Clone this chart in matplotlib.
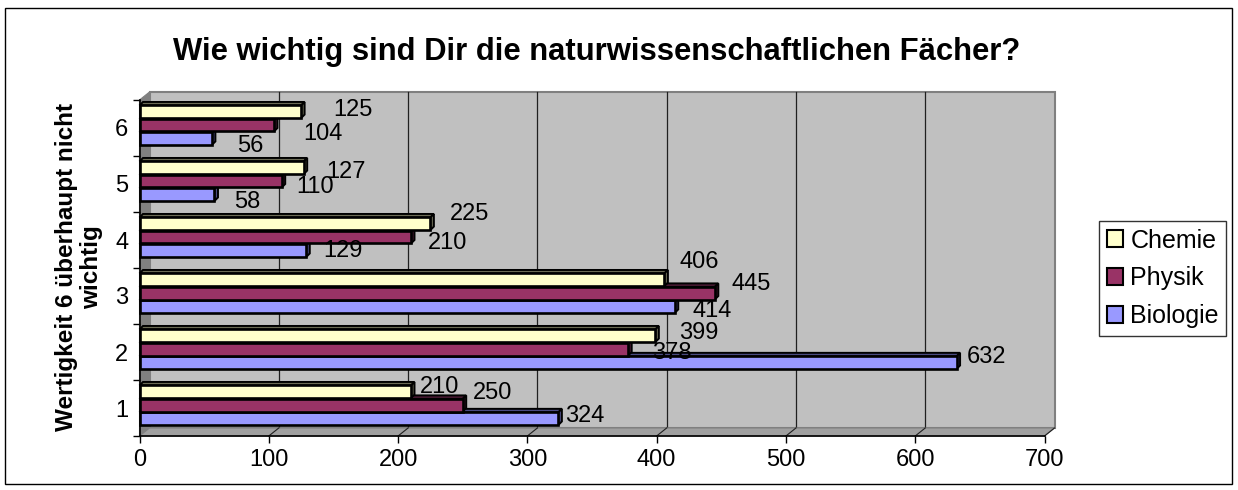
import matplotlib
matplotlib.use("Agg")
import matplotlib.pyplot as plt
from matplotlib.patches import Rectangle, Polygon, Patch
from matplotlib import transforms

plt.rcParams["font.family"] = ["Liberation Sans", "DejaVu Sans"]

# data
categories = [1, 2, 3, 4, 5, 6]
series = ["Chemie", "Physik", "Biologie"]
chemie = [210, 399, 406, 225, 127, 125]
physik = [250, 378, 445, 210, 110, 104]
biologie = [324, 632, 414, 129, 58, 56]
values = [chemie, physik, biologie]

colors = ["#ffffcc", "#993366", "#9999ff"]
tops = ["#6b6b55", "#4a1a33", "#4a4a80"]

# label nudges in pixels (right, down), per series and category
lab_dx = [[9, 24, 15, 19, 23, 32], [10, 24, 17, 17, 15, 29], [7, 10, 18, 17, 20, 25]]
lab_dy = [[-5, -3, -18, -10, 4, -2], [-12, 4, -9, 6, 6, 9], [-3, -6, 4, 0, 7, 7]]

W, H = 1238, 490
fig = plt.figure(figsize=(W / 100, H / 100), dpi=100)

# axes in pixel layout
x0, x1 = 139.5, 1044.5
ytop, ybot = 100, 436
ax = fig.add_axes([x0 / W, 1 - ybot / H, (x1 - x0) / W, (ybot - ytop) / H])
ax.set_xlim(0, 700)
ax.set_ylim(0.5, 6.5)
ax.set_facecolor("none")

ux = 700 / (x1 - x0)   # data units per pixel
uy = 6 / (ybot - ytop)
dx, dy = 10 * ux, 8 * uy

back = transforms.offset_copy(ax.transData, fig=fig, x=10, y=8, units="dots")

# back wall + grid
ax.add_patch(Rectangle((0, 0.5), 700, 6, transform=back, facecolor="#c0c0c0",
                       edgecolor="#808080", lw=1.5, zorder=0, clip_on=False))
for v in range(100, 700, 100):
    ax.plot([v, v], [0.5, 6.5], transform=back, color="#202020", lw=0.9, zorder=1,
            clip_on=False)

# side wall and floor
ax.add_patch(Polygon([(0, 0.5), (0, 6.5), (dx, 6.5 + dy), (dx, 0.5 + dy)],
                     facecolor="#808080", edgecolor="#808080", lw=0.8, zorder=1,
                     clip_on=False))
ax.add_patch(Polygon([(0, 0.5), (700, 0.5), (700 + dx, 0.5 + dy), (dx, 0.5 + dy)],
                     facecolor="#a0a0a0", edgecolor="#808080", lw=0.8, zorder=1,
                     clip_on=False))
for v in range(100, 800, 100):
    ax.plot([v, v + dx], [0.5, 0.5 + dy], color="#202020", lw=0.8, zorder=1.5,
            clip_on=False)

# bars (3d look)
offs = [0.29, 0.05, -0.19]
bh = 0.225
bdx, bdy = 3.5 * ux, 3.5 * uy
for i in [2, 1, 0]:
    for k, (c, v) in enumerate(zip(categories, values[i])):
        yb = c + offs[i] - bh / 2
        yt = yb + bh
        ax.add_patch(Polygon([(0, yt), (v, yt), (v + bdx, yt + bdy), (bdx, yt + bdy)],
                             facecolor=tops[i], edgecolor="black", lw=1.4, zorder=3,
                             clip_on=False))
        ax.add_patch(Polygon([(v, yb), (v + bdx, yb + bdy), (v + bdx, yt + bdy), (v, yt)],
                             facecolor=tops[i], edgecolor="black", lw=1.4, zorder=3,
                             clip_on=False))
        ax.add_patch(Rectangle((0, yb), v, bh, facecolor=colors[i],
                               edgecolor="black", lw=1.9, zorder=3, clip_on=False))
        ax.annotate(str(v), (v, c + offs[i]), xytext=(lab_dx[i][k], -lab_dy[i][k]),
                    textcoords="offset pixels", ha="left", va="center",
                    fontsize=17, color="black", zorder=5)

# axes styling
for s in ["top", "right"]:
    ax.spines[s].set_visible(False)
ax.spines["left"].set_linewidth(1.2)
ax.spines["bottom"].set_linewidth(1.2)
ax.spines["left"].set_zorder(4)
ax.spines["bottom"].set_zorder(4)
ax.set_xticks(range(0, 800, 100))
ax.tick_params(axis="x", length=5, width=1, pad=4, labelsize=17)
ax.set_yticks(categories)
ax.set_yticks([c + 0.5 for c in [0] + categories], minor=True)
ax.tick_params(axis="y", which="major", length=0, pad=8, labelsize=17)
ax.tick_params(axis="y", which="minor", length=5, width=1)

# texts
fig.text(597 / W, 1 - 52 / H, "Wie wichtig sind Dir die naturwissenschaftlichen Fächer?",
         ha="center", va="center", fontsize=22.3, weight="bold")
fig.text(79 / W, 1 - 267 / H, "Wertigkeit 6 überhaupt nicht\nwichtig", rotation=90,
         ha="center", va="center", fontsize=17.5, weight="bold", multialignment="center",
         linespacing=1.1)

handles = [Patch(facecolor=col, edgecolor="black", lw=1.5) for col in colors]
leg = fig.legend(handles, series, loc="upper left", bbox_to_anchor=(1099 / W, 1 - 221 / H),
                 fontsize=18, frameon=True, fancybox=False, handlelength=0.65,
                 handleheight=0.65, handletextpad=0.3, labelspacing=0.55,
                 borderpad=0.3, borderaxespad=0)
leg.get_frame().set_edgecolor("black")
leg.get_frame().set_linewidth(1)

# outer frame
fig.add_artist(Rectangle((5 / W, 1 - 484 / H), 1227 / W, 476 / H, transform=fig.transFigure,
                         facecolor="none", edgecolor="black", lw=1))

fig.savefig("out.png", dpi=100, facecolor="white")
